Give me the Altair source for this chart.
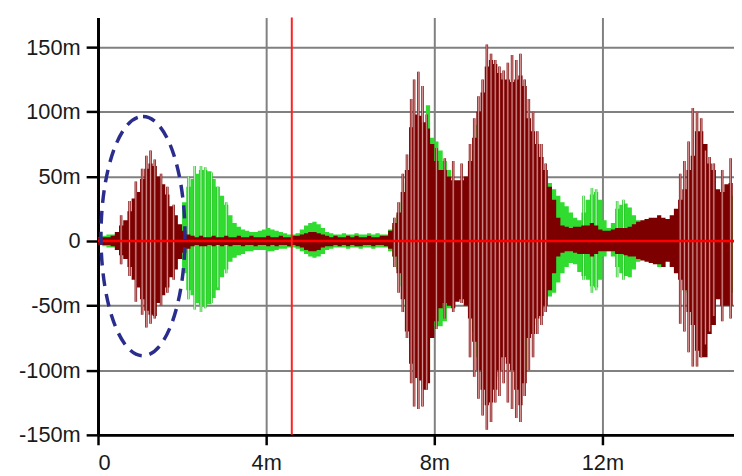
import altair as alt
import pandas as pd

# ---- envelope samples every 0.1 ms (t = 0.0 ... 15.1) ----
red_top = [
    3, 3, 3, 4, 7, 12, 16, 23, 33, 38,
    48, 56, 60, 58, 50, 44, 36, 27, 20, 13,
    8, 5, 4, 3, 4, 3, 3, 4, 3, 3,
    4, 3, 3, 4, 3, 3, 4, 3, 3, 3,
    4, 3, 3, 4, 3, 3, 4, 4, 5, 6,
    7, 7, 6, 5, 4, 3, 4, 3, 3, 4,
    3, 4, 3, 3, 4, 3, 3, 4, 4, 8,
    14, 22, 38, 55, 88, 98, 97, 92, 87, 75,
    62, 55, 55, 50, 47, 47, 47, 50, 62, 80,
    100, 115, 135, 140, 137, 130, 125, 125, 123, 125,
    128, 120, 95, 85, 75, 65, 55, 42, 32, 18,
    12, 11, 10, 11, 11, 12, 12, 14, 12, 9,
    8, 8, 9, 10, 10, 10, 11, 13, 15, 16,
    17, 18, 18, 20, 18, 17, 20, 25, 32, 40,
    55, 66, 85, 85, 75, 60, 55, 40, 38, 44,
    45, 50,
]
red_bot = [
    -3, -3, -3, -4, -7, -11, -14, -20, -30, -36,
    -45, -54, -57, -58, -48, -42, -36, -28, -22, -14,
    -9, -6, -4, -3, -4, -4, -3, -4, -3, -4,
    -3, -4, -3, -3, -4, -3, -3, -4, -3, -3,
    -4, -3, -4, -3, -3, -4, -3, -4, -5, -7,
    -8, -8, -7, -5, -4, -4, -3, -4, -3, -4,
    -3, -4, -4, -3, -3, -4, -3, -3, -4, -6,
    -12, -25, -45, -70, -95, -106, -108, -115, -110, -75,
    -62, -52, -48, -50, -52, -47, -45, -50, -60, -78,
    -100, -115, -127, -125, -115, -100, -90, -95, -100, -115,
    -127, -110, -75, -72, -60, -58, -50, -38, -25, -12,
    -9, -8, -8, -9, -10, -10, -10, -12, -10, -8,
    -8, -8, -8, -10, -10, -11, -12, -12, -14, -15,
    -16, -17, -18, -18, -20, -16, -20, -25, -30, -38,
    -55, -65, -85, -90, -90, -72, -65, -45, -50, -50,
    -50, -45,
]
green_top = [
    3, 4, 5, 5, 5, 4, 4, 4, 4, 4,
    4, 4, 4, 4, 4, 4, 4, 5, 6, 10,
    30, 42, 48, 52, 55, 55, 54, 48, 42, 35,
    28, 20, 14, 11, 9, 8, 7, 7, 8, 9,
    10, 9, 8, 7, 6, 5, 5, 6, 9, 12,
    14, 15, 13, 10, 7, 6, 5, 5, 6, 5,
    5, 6, 5, 5, 6, 5, 6, 5, 5, 9,
    12, 20, 30, 45, 70, 85, 90, 90, 105, 80,
    77, 70, 62, 55, 45, 40, 40, 45, 55, 70,
    90, 100, 110, 115, 110, 110, 105, 105, 100, 100,
    100, 95, 80, 70, 60, 55, 50, 45, 40, 35,
    30, 27, 22, 18, 16, 22, 32, 36, 38, 32,
    16, 10, 14, 25, 28, 29, 26, 20, 16, 14,
    12, 12, 15, 15, 15, 12, 14, 18, 20, 25,
    30, 40, 50, 60, 55, 45, 40, 30, 30, 35,
    35, 40,
]
green_bot = [
    -3, -4, -5, -5, -5, -4, -4, -4, -4, -4,
    -4, -4, -4, -4, -4, -4, -4, -5, -6, -8,
    -25, -38, -42, -48, -50, -50, -49, -44, -38, -28,
    -22, -16, -13, -11, -10, -8, -8, -7, -7, -7,
    -8, -8, -7, -6, -6, -5, -5, -6, -8, -10,
    -12, -13, -12, -10, -7, -6, -5, -5, -5, -6,
    -5, -5, -6, -5, -5, -6, -5, -5, -5, -8,
    -12, -22, -35, -55, -80, -90, -95, -100, -100, -70,
    -66, -66, -62, -52, -50, -45, -42, -45, -55, -70,
    -90, -100, -110, -110, -105, -90, -80, -85, -90, -100,
    -110, -100, -70, -65, -55, -52, -45, -43, -40, -32,
    -25, -20, -17, -18, -24, -27, -30, -35, -36, -30,
    -12, -8, -12, -20, -25, -27, -28, -22, -16, -14,
    -12, -12, -16, -20, -20, -14, -16, -20, -22, -28,
    -40, -50, -60, -70, -70, -60, -50, -40, -40, -40,
    -40, -40,
]
sample_step = 0.1
t_samples = [round(i * sample_step, 1) for i in range(len(red_top))]

# ---- individual peaks (light spikes) ----
red_spike_t = [0.55, 0.75, 0.9, 1.05, 1.15, 1.25, 1.35, 1.5, 1.65, 1.8,
               7.05, 7.15, 7.25, 7.35, 7.45, 7.52, 7.62, 7.72, 7.82, 8.05,
               8.25, 8.45, 8.65, 8.85, 8.95, 9.05, 9.15, 9.25, 9.35, 9.45,
               9.55, 9.65, 9.75, 9.85, 9.95, 10.05, 10.15, 10.25, 10.35, 10.45,
               10.55, 10.65, 13.85, 13.95, 14.05, 14.15, 14.25, 14.35, 14.45, 14.55,
               14.65, 14.85, 15.05]
red_spike_top = [20, 31, 46, 56, 66, 70, 63, 52, 42, 28,
                 18, 30, 52, 67, 110, 125, 131, 120, 98, 72,
                 64, 62, 60, 75, 95, 112, 125, 152, 145, 140,
                 135, 132, 138, 144, 140, 145, 125, 110, 100, 85,
                 75, 60, 52, 62, 77, 103, 100, 95, 70, 65,
                 60, 55, 64]
red_spike_bot = [-18, -27, -47, -57, -67, -64, -60, -50, -40, -30,
                 -20, -40, -55, -75, -110, -128, -130, -128, -115, -68,
                 -60, -55, -48, -90, -105, -122, -135, -146, -140, -125,
                 -120, -110, -125, -130, -137, -140, -120, -100, -90, -72,
                 -65, -55, -64, -70, -86, -97, -97, -90, -80, -70,
                 -58, -62, -60]
green_spike_t = [2.15, 2.3, 2.45, 2.55, 2.7, 2.85, 3.05, 11.55, 11.75, 11.85, 12.35, 12.5]
green_spike_top = [50, 58, 58, 57, 53, 42, 30, 35, 41, 40, 31, 32]
green_spike_bot = [-45, -53, -55, -52, -48, -36, -25, -30, -40, -38, -28, -30]

cursor_t = [4.61]
ellipse_t = [1.07]
ellipse_v = [3.8]

x_ticks = [0, 4, 8, 12]
y_ticks = [-150, -100, -50, 0, 50, 100, 150]

env = pd.DataFrame({"t": t_samples, "rt": red_top, "rb": red_bot,
                    "gt": green_top, "gb": green_bot})
rsp = pd.DataFrame({"t": red_spike_t, "top": red_spike_top, "bot": red_spike_bot})
gsp = pd.DataFrame({"t": green_spike_t, "top": green_spike_top, "bot": green_spike_bot})
cur = pd.DataFrame({"t": cursor_t})
ell = pd.DataFrame({"t": ellipse_t, "v": ellipse_v})
zero = pd.DataFrame({"v": [0]})

FONT = "Liberation Sans"
xscale = alt.Scale(domain=[0, 15.13], nice=False, zero=False)
yscale = alt.Scale(domain=[-150, 173], nice=False, zero=False)
lab = "datum.value == 0 ? '0' : datum.value + 'm'"

x_axis = alt.Axis(values=x_ticks, labelExpr=lab, title=None, grid=True,
                  gridColor="#808080", gridWidth=2, gridOpacity=1,
                  domainColor="#000000", domainWidth=3,
                  tickColor="#000000", tickWidth=2.5, tickSize=10,
                  labelFont=FONT, labelFontSize=22, labelColor="#1a1a1a",
                  labelPadding=8, labelFlush=True)
y_axis = alt.Axis(values=y_ticks, labelExpr=lab, title=None, grid=True,
                  gridColor="#808080", gridWidth=2, gridOpacity=1,
                  domainColor="#000000", domainWidth=3,
                  tickColor="#000000", tickWidth=2.5, tickSize=12,
                  labelFont=FONT, labelFontSize=22, labelColor="#1a1a1a",
                  labelPadding=6)

X = lambda f: alt.X(f, scale=xscale, axis=x_axis)
Y = lambda f: alt.Y(f, scale=yscale, axis=y_axis)

base_env = alt.Chart(env)

green_env = base_env.mark_area(color="#2fdc2f", interpolate="step-after", clip=True).encode(
    x=X("t:Q"), y=Y("gt:Q"), y2="gb:Q")
green_sp_o = alt.Chart(gsp).mark_rule(color="#27c627", strokeWidth=2.6, clip=True).encode(
    x=X("t:Q"), y=Y("top:Q"), y2="bot:Q")
green_sp_i = alt.Chart(gsp).mark_rule(color="#c2f7c2", strokeWidth=1.1, clip=True).encode(
    x=X("t:Q"), y=Y("top:Q"), y2="bot:Q")

red_env = base_env.mark_area(color="#7d0000", interpolate="step-after", clip=True).encode(
    x=X("t:Q"), y=Y("rt:Q"), y2="rb:Q")
red_sp_o = alt.Chart(rsp).mark_rule(color="#8a1a1a", strokeWidth=2.6, clip=True).encode(
    x=X("t:Q"), y=Y("top:Q"), y2="bot:Q")
red_sp_i = alt.Chart(rsp).mark_rule(color="#d89a9a", strokeWidth=1.0, clip=True).encode(
    x=X("t:Q"), y=Y("top:Q"), y2="bot:Q")

zero_line = alt.Chart(zero).mark_rule(color="#ff0000", strokeWidth=2.5).encode(
    y=Y("v:Q"))
cursor = alt.Chart(cur).mark_rule(color="#ff2020", strokeWidth=2).encode(
    x=X("t:Q"))

ellipse_path = ("M 0 -1 C 0.194 -1 0.351 -0.552 0.351 0 "
                "C 0.351 0.552 0.194 1 0 1 "
                "C -0.194 1 -0.351 0.552 -0.351 0 "
                "C -0.351 -0.552 -0.194 -1 0 -1 Z")
ellipse = alt.Chart(ell).mark_point(
    shape=ellipse_path, size=58564, filled=False, stroke="#2a2d8c",
    strokeWidth=3.5, strokeDash=[13, 8], opacity=1,
).encode(x=X("t:Q"), y=Y("v:Q"))

chart = alt.layer(
    green_env, green_sp_o, green_sp_i, red_env, red_sp_o, red_sp_i,
    zero_line, cursor, ellipse
).properties(
    width=643, height=422,
    background="#ffffff",
    autosize=alt.AutoSizeParams(type="none"),
    padding={"left": 91, "top": 7, "right": 0, "bottom": 38},
).configure_view(stroke=None)

chart.save("out.html", embed_options={"renderer": "svg", "actions": False})
